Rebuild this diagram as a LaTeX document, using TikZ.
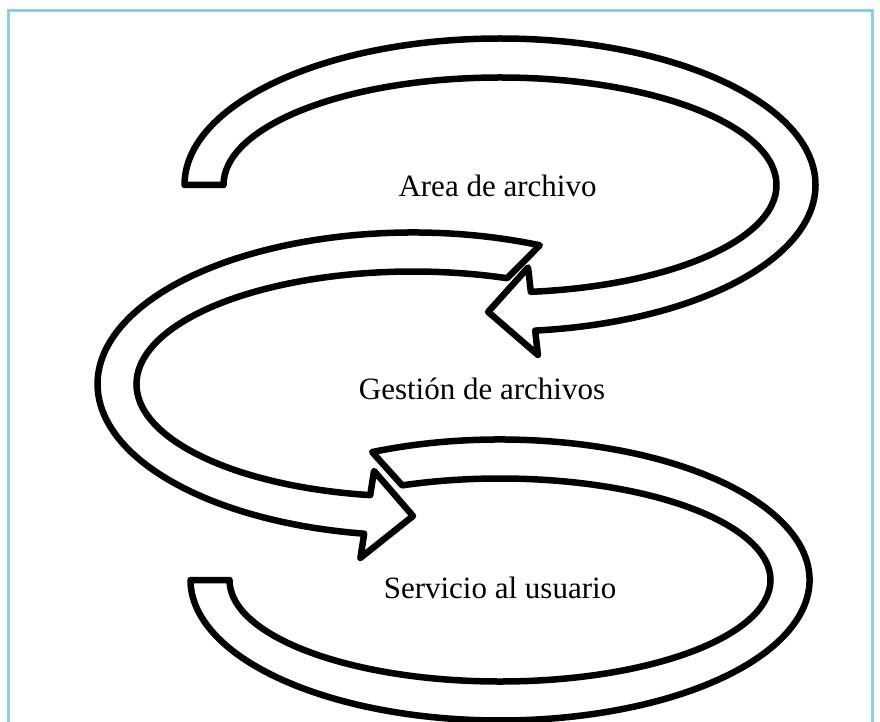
\documentclass[tikz,border=0pt]{standalone}
\usepackage{fontspec}
\setmainfont{Liberation Serif}
\usetikzlibrary{calc}
\definecolor{framec}{HTML}{92CDDC}
\begin{document}
\begin{tikzpicture}[x=1pt,y=-1pt,
  band/.style={draw=black, fill=white, line width=6.5pt, line join=round},
  lbl/.style={font=\fontsize{31}{36}\selectfont, inner sep=0pt},
  framebox/.style={draw=framec, line width=3pt}]
\useasboundingbox (0,0) rectangle (880,722);
\draw[framebox] (8.5,11) rectangle (872,760);
% arrow 1 (top)
\coordinate (c1) at (500,185);
\draw[band] ($(c1)+(180:315.5 and 146.5)$)
  arc[start angle=180, end angle=443.6, x radius=315.5, y radius=146.5]
  -- ($(c1)+(83.6:340 and 171)$)
  -- ($(c1)+(92.3:296 and 127)$)
  -- ($(c1)+(83.6:252 and 83)$)
  -- ($(c1)+(83.6:276.5 and 107.5)$)
  arc[start angle=443.6, end angle=180, x radius=276.5, y radius=107.5]
  -- cycle;
% arrow 2 (middle)
\coordinate (c2) at (413,384);
\draw[band] ($(c2)+(293.7:315.5 and 151.5)$)
  arc[start angle=293.7, end angle=98.9, x radius=315.5, y radius=151.5]
  -- ($(c2)+(98.9:340 and 176)$)
  -- ($(c2)+(90:296 and 132)$)
  -- ($(c2)+(98.9:252 and 88)$)
  -- ($(c2)+(98.9:276.5 and 112.5)$)
  arc[start angle=98.9, end angle=289.9, x radius=276.5, y radius=112.5]
  -- cycle;
% arrow 3 (bottom)
\coordinate (c3) at (500,580);
\draw[band] ($(c3)+(245.6:309.5 and 140.5)$)
  arc[start angle=245.6, end angle=540, x radius=309.5, y radius=140.5]
  -- ($(c3)+(180:270.5 and 101.5)$)
  arc[start angle=540, end angle=248.8, x radius=270.5, y radius=101.5]
  -- cycle;
\node[lbl] (area) at (497.5,186) {Area de archivo};
\node[lbl] (gest) at (482,389) {Gestión de archivos};
\node[lbl] (serv) at (500,588) {Servicio al usuario};
\end{tikzpicture}
\end{document}
